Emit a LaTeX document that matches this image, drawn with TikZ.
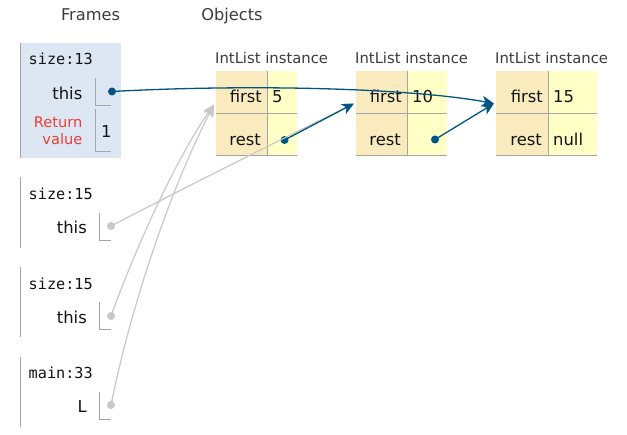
\documentclass[tikz,border=0pt]{standalone}
\usepackage{fontspec}
\setmainfont{DejaVu Sans}
\setmonofont{DejaVu Sans Mono}
\usetikzlibrary{arrows.meta}
\definecolor{ptr}{RGB}{0,85,131}
\definecolor{ghost}{RGB}{200,200,200}
\definecolor{framebg}{RGB}{221,230,243}
\definecolor{keybg}{RGB}{250,235,191}
\definecolor{valbg}{RGB}{255,255,198}
\definecolor{rulec}{RGB}{165,165,165}
\definecolor{retred}{RGB}{233,63,52}
\definecolor{inkc}{RGB}{20,20,20}
\definecolor{titlec}{RGB}{60,60,60}
\tikzset{
  x=1pt, y=-1pt,
  titletxt/.style={font=\fontsize{16.2}{18}\selectfont, text=titlec, anchor=base, inner sep=0pt},
  typetxt/.style={font=\fontsize{14.8}{17}\selectfont, text=titlec, anchor=base west, inner sep=0pt},
  fnametxt/.style={font=\ttfamily\fontsize{15.2}{17}\selectfont, text=inkc, anchor=base west, inner sep=0pt},
  vartxt/.style={font=\fontsize{16.4}{18}\selectfont, text=inkc, anchor=base east, inner sep=0pt},
  rettxt/.style={font=\fontsize{14.6}{17}\selectfont, text=retred, anchor=base east, inner sep=0pt},
  valtxt/.style={font=\fontsize{16.4}{18}\selectfont, text=inkc, anchor=base west, inner sep=0pt},
  keytxt/.style={font=\fontsize{16.4}{18}\selectfont, text=inkc, anchor=base east, inner sep=0pt},
  framerule/.style={draw=rulec, line width=1pt},
  cellrule/.style={draw=rulec, line width=1pt},
  ptrdot/.style={circle, fill=ptr, inner sep=0pt, minimum size=8pt},
  ghostdot/.style={circle, fill=ghost, inner sep=0pt, minimum size=8pt},
  ptrarrow/.style={draw=ptr, line width=1.3pt, -{Stealth[length=12pt,width=11pt,inset=3.5pt]}},
  ghostarrow/.style={draw=ghost, line width=1.2pt, -{Stealth[length=12pt,width=11pt,inset=3.5pt]}},
}
\newcommand{\myobjbox}[8]{%
  % #1 left x, #2 divider x, #3 right x, #4 first value, #5 rest value, #6 name prefix
  \fill[keybg] (#1,71) rectangle (#2,156);
  \fill[valbg] (#2,71) rectangle (#3,156);
  \draw[cellrule] (#2,71) -- (#2,156);
  \draw[cellrule] (#1,114) -- (#3,114);
  \draw[cellrule] (#1,156) -- (#3,156);
  \node[typetxt] (#6type) at (#1-1,64) {IntList instance};
  \node[keytxt] (#6kf) at (#2-5,102.5) {first};
  \node[keytxt] (#6kr) at (#2-6,145.7) {rest};
  \node[valtxt] (#6vf) at (#2+5,102.5) {#4};
  \node[valtxt] (#6vr) at (#2+5,145.7) {#5};
  \coordinate (#6in) at (#7,#8);
}
\begin{document}
\begin{tikzpicture}
\useasboundingbox (0,0) rectangle (627,435);
\fill[white] (0,0) rectangle (627,435);

% titles
\node[titletxt] (tframes) at (90.5,20.7) {Frames};
\node[titletxt] (tobjects) at (232,20.7) {Objects};

% frame 1 (highlighted)
\fill[framebg] (20.5,42.7) rectangle (120.7,158.3);
\draw[framerule] (20.5,42.7) -- (20.5,158.3);
\node[fnametxt] (f1name) at (28.5,65) {size:13};
\node[vartxt] (f1this) at (82.5,99.3) {this};
\draw[framerule] (95.7,78) -- (95.7,106) -- (111,106);
\node[ptrdot] (d1) at (112,91.5) {};
\node[rettxt] (f1ret) at (82.5,127.7) {Return};
\node[rettxt] (f1val) at (82.5,145) {value};
\draw[framerule] (95.7,109) -- (95.7,152) -- (111,152);
\node[valtxt] (f1one) at (101,137.3) {1};

% frame 2
\draw[framerule] (20.5,177) -- (20.5,248);
\node[fnametxt] (f2name) at (28.5,200) {size:15};
\node[vartxt] (f2this) at (87,234) {this};
\draw[framerule] (99.3,213) -- (99.3,241) -- (111,241);
\node[ghostdot] (d2) at (111,226) {};

% frame 3
\draw[framerule] (20.5,267) -- (20.5,337);
\node[fnametxt] (f3name) at (28.5,290) {size:15};
\node[vartxt] (f3this) at (87,323.3) {this};
\draw[framerule] (99.3,302) -- (99.3,330) -- (111,330);
\node[ghostdot] (d3) at (111,316) {};

% frame 4
\draw[framerule] (20.5,357) -- (20.5,427);
\node[fnametxt] (f4name) at (28.5,379) {main:33};
\node[vartxt] (f4L) at (87,412.7) {L};
\draw[framerule] (99.3,392) -- (99.3,420) -- (111,420);
\node[ghostdot] (d4) at (111,405) {};

% objects
\myobjbox{216}{267}{297}{5}{}{oa}{214}{104.5}
\myobjbox{356}{407}{447}{10}{}{ob}{354}{103.5}
\myobjbox{496}{548}{597}{15}{null}{oc}{494}{103.5}

\node[ptrdot] (da) at (284.5,140) {};
\node[ptrdot] (db) at (435,139.5) {};

% ghost pointers
\draw[ghostarrow] (d2.center) .. controls (190,185) and (280,140) .. (obin);
\draw[ghostarrow] (d3.center) .. controls (135,250) and (175,160) .. (oain);
\draw[ghostarrow] (d4.center) .. controls (128,320) and (165,200) .. (oain);

% live pointers
\draw[ptrarrow] (d1.center) .. controls (250,84) and (410,88) .. (ocin);
\draw[ptrarrow] (da.center) -- (obin);
\draw[ptrarrow] (db.center) -- (ocin);
\end{tikzpicture}
\end{document}
